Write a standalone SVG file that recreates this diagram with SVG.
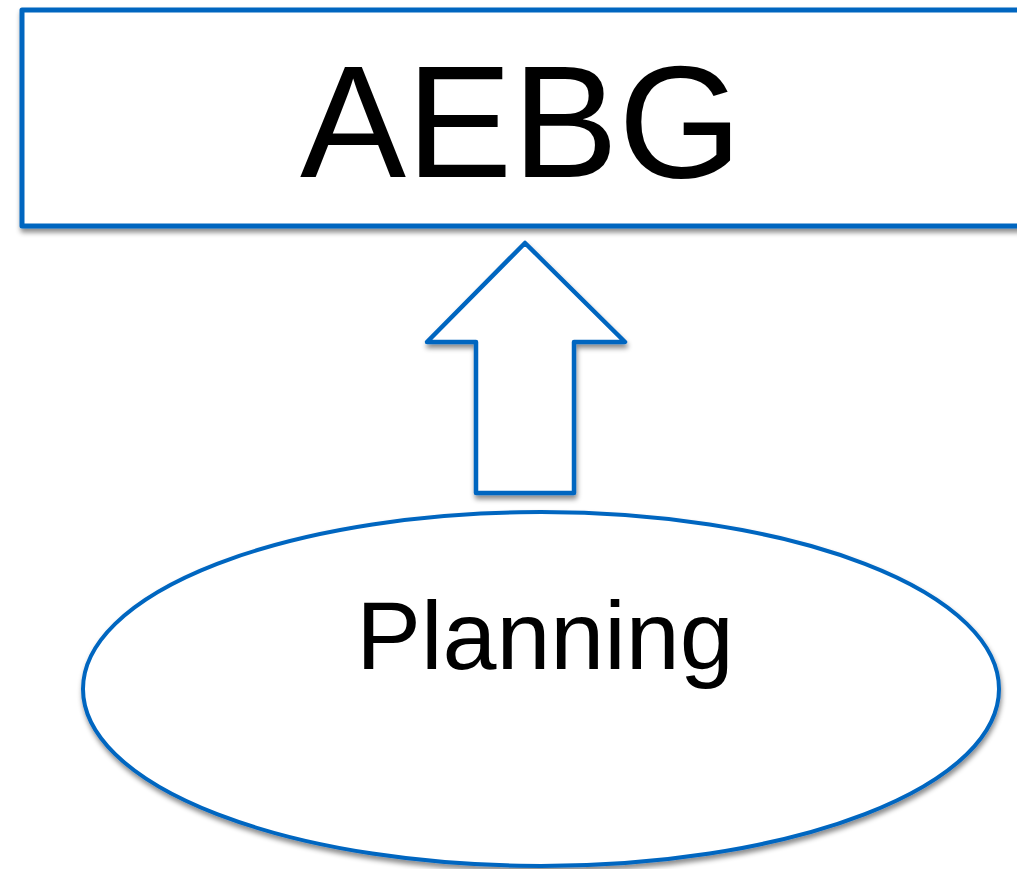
<svg xmlns="http://www.w3.org/2000/svg" width="1017" height="869" viewBox="0 0 1017 869">
<style>
.shape{fill:#ffffff;stroke:#0066C0;stroke-linejoin:round;filter:url(#sh)}
.lbl{font-family:"Liberation Sans",Arial,sans-serif;fill:#000000;text-anchor:middle}
</style>
<defs>
<filter id="sh" x="-10%" y="-10%" width="120%" height="130%">
<feDropShadow dx="1" dy="4" stdDeviation="2.5" flood-color="#000000" flood-opacity="0.45"/>
</filter>
</defs>
<rect width="1017" height="869" fill="#ffffff"/>
<g id="aebg">
<rect class="shape" x="22" y="10" width="1010" height="216" stroke-width="5"/>
<text class="lbl" x="521" y="177" font-size="159">AEBG</text>
</g>
<g id="connectors">
<path class="shape" d="M525,243 L625,342 L574,342 L574,493 L476,493 L476,342 L427,342 Z" stroke-width="4.5"/>
</g>
<g id="planning">
<ellipse class="shape" cx="541" cy="689" rx="458" ry="177" stroke-width="4"/>
<text class="lbl" x="545" y="669" font-size="97">Planning</text>
</g>
</svg>
